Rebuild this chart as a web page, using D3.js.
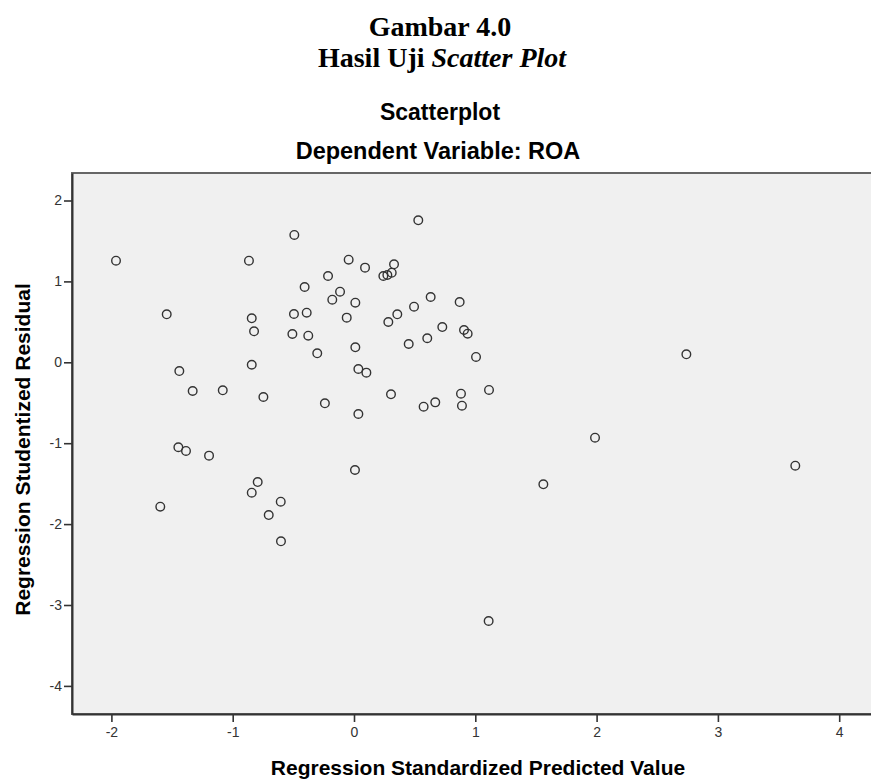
<!DOCTYPE html>
<html lang="en">
<head>
    <meta charset="UTF-8">
    <title>Scatterplot - Dependent Variable: ROA</title>
    <script src="https://d3js.org/d3.v7.min.js"></script>
    <style>
        body { margin: 0; background: #fff; }
    </style>
</head>
<body>
    <div id="chart"></div>

    <script>
        const predicted = [
            -1.962, -1.544, -1.440, -1.330, -1.082, -0.866, -0.843, -0.824, -0.843, -0.747,
            -0.492, -0.495, -0.508, -1.448, -1.385, -1.195, -1.597, -0.843, -0.794, -0.604,
            -0.703, -0.602, 0.530, -0.407, -0.044, 0.091, -0.214, 0.242, 0.275, 0.311,
            0.330, -0.115, -0.179, 0.011, -0.390, -0.060, -0.377, -0.303, 0.011, 0.036,
            0.102, -0.240, 0.036, 0.305, 0.283, 0.357, 0.495, 0.632, 0.871, 0.728,
            0.604, 0.451, 0.907, 0.937, 1.006, 1.113, 0.882, 0.890, 0.670, 0.574,
            1.987, 0.008, 1.561, 1.110, 2.740, 3.638
        ];
        const residual = [
            1.256, 0.593, -0.108, -0.355, -0.346, 1.256, 0.544, 0.383, -0.030, -0.429,
            1.574, 0.597, 0.350, -1.050, -1.096, -1.154, -1.785, -1.612, -1.480, -1.723,
            -1.888, -2.213, 1.755, 0.931, 1.268, 1.170, 1.067, 1.067, 1.079, 1.108,
            1.211, 0.873, 0.774, 0.737, 0.613, 0.552, 0.329, 0.111, 0.185, -0.083,
            -0.128, -0.507, -0.639, -0.396, 0.498, 0.593, 0.687, 0.807, 0.745, 0.436,
            0.297, 0.226, 0.399, 0.354, 0.066, -0.342, -0.388, -0.536, -0.495, -0.549,
            -0.932, -1.331, -1.508, -3.198, 0.099, -1.278
        ];
        const xTicks = [-2, -1, 0, 1, 2, 3, 4];
        const yTicks = [2, 1, 0, -1, -2, -3, -4];

        const width = 871;
        const height = 779;
        const plot = { left: 72, top: 173, right: 884, bottom: 714 };

        const svg = d3.select("#chart")
            .append("svg")
            .attr("width", width)
            .attr("height", height);

        // headings
        const serif = "'Liberation Serif', 'Times New Roman', serif";
        const sans = "'Liberation Sans', Arial, sans-serif";

        svg.append("text")
            .attr("x", 440).attr("y", 36)
            .attr("text-anchor", "middle")
            .style("font-family", serif).style("font-weight", "bold").style("font-size", "28px")
            .text("Gambar 4.0");

        const t2 = svg.append("text")
            .attr("x", 442).attr("y", 67)
            .attr("text-anchor", "middle")
            .style("font-family", serif).style("font-weight", "bold").style("font-size", "28px");
        t2.append("tspan").text("Hasil Uji ");
        t2.append("tspan").style("font-style", "italic").text("Scatter Plot");

        svg.append("text")
            .attr("x", 440).attr("y", 120)
            .attr("text-anchor", "middle")
            .style("font-family", sans).style("font-weight", "bold").style("font-size", "23px")
            .text("Scatterplot");

        svg.append("text")
            .attr("x", 438).attr("y", 159)
            .attr("text-anchor", "middle")
            .style("font-family", sans).style("font-weight", "bold").style("font-size", "23.5px")
            .text("Dependent Variable: ROA");

        // scales: 0 sits at x=354 / y=362, about 121 px and 81 px per unit
        const x = d3.scaleLinear()
            .domain([(plot.left - 354) / 121.3, (plot.right - 354) / 121.3])
            .range([plot.left, plot.right]);
        const y = d3.scaleLinear()
            .domain([(362.3 - plot.bottom) / 80.9, (362.3 - plot.top) / 80.9])
            .range([plot.bottom, plot.top]);

        svg.append("rect")
            .attr("x", plot.left).attr("y", plot.top)
            .attr("width", plot.right - plot.left).attr("height", plot.bottom - plot.top)
            .attr("fill", "#f0f0f0")
            .attr("stroke", "#666")
            .attr("stroke-width", 2);

        const xAxis = svg.append("g")
            .attr("transform", `translate(0,${plot.bottom})`)
            .call(d3.axisBottom(x).tickValues(xTicks).tickSize(8).tickPadding(5).tickSizeOuter(0));
        const yAxis = svg.append("g")
            .attr("transform", `translate(${plot.left},0)`)
            .call(d3.axisLeft(y).tickValues(yTicks).tickSize(8).tickPadding(2).tickSizeOuter(0));

        [xAxis, yAxis].forEach(g => {
            g.select(".domain").attr("stroke", "#333").attr("stroke-width", 2);
            g.selectAll(".tick line").attr("stroke", "#333").attr("stroke-width", 1.6);
            g.selectAll(".tick text")
                .attr("fill", "#333")
                .style("font-family", sans)
                .style("font-size", "14px");
        });
        xAxis.selectAll(".tick text").text(d => String(d));
        yAxis.selectAll(".tick text").text(d => String(d));

        // points
        svg.append("g")
            .selectAll("circle")
            .data(predicted.map((p, i) => [p, residual[i]]))
            .join("circle")
            .attr("cx", d => x(d[0]))
            .attr("cy", d => y(d[1]))
            .attr("r", 4.3)
            .attr("fill", "none")
            .attr("stroke", "#333")
            .attr("stroke-width", 1.4);

        // axis titles
        svg.append("text")
            .attr("x", (plot.left + plot.right) / 2).attr("y", 775)
            .attr("text-anchor", "middle")
            .style("font-family", sans).style("font-weight", "bold").style("font-size", "21px")
            .text("Regression Standardized Predicted Value");

        svg.append("text")
            .attr("transform", `translate(30,${(plot.top + plot.bottom) / 2 + 6}) rotate(-90)`)
            .attr("text-anchor", "middle")
            .style("font-family", sans).style("font-weight", "bold").style("font-size", "21px")
            .text("Regression Studentized Residual");
    </script>
</body>
</html>
